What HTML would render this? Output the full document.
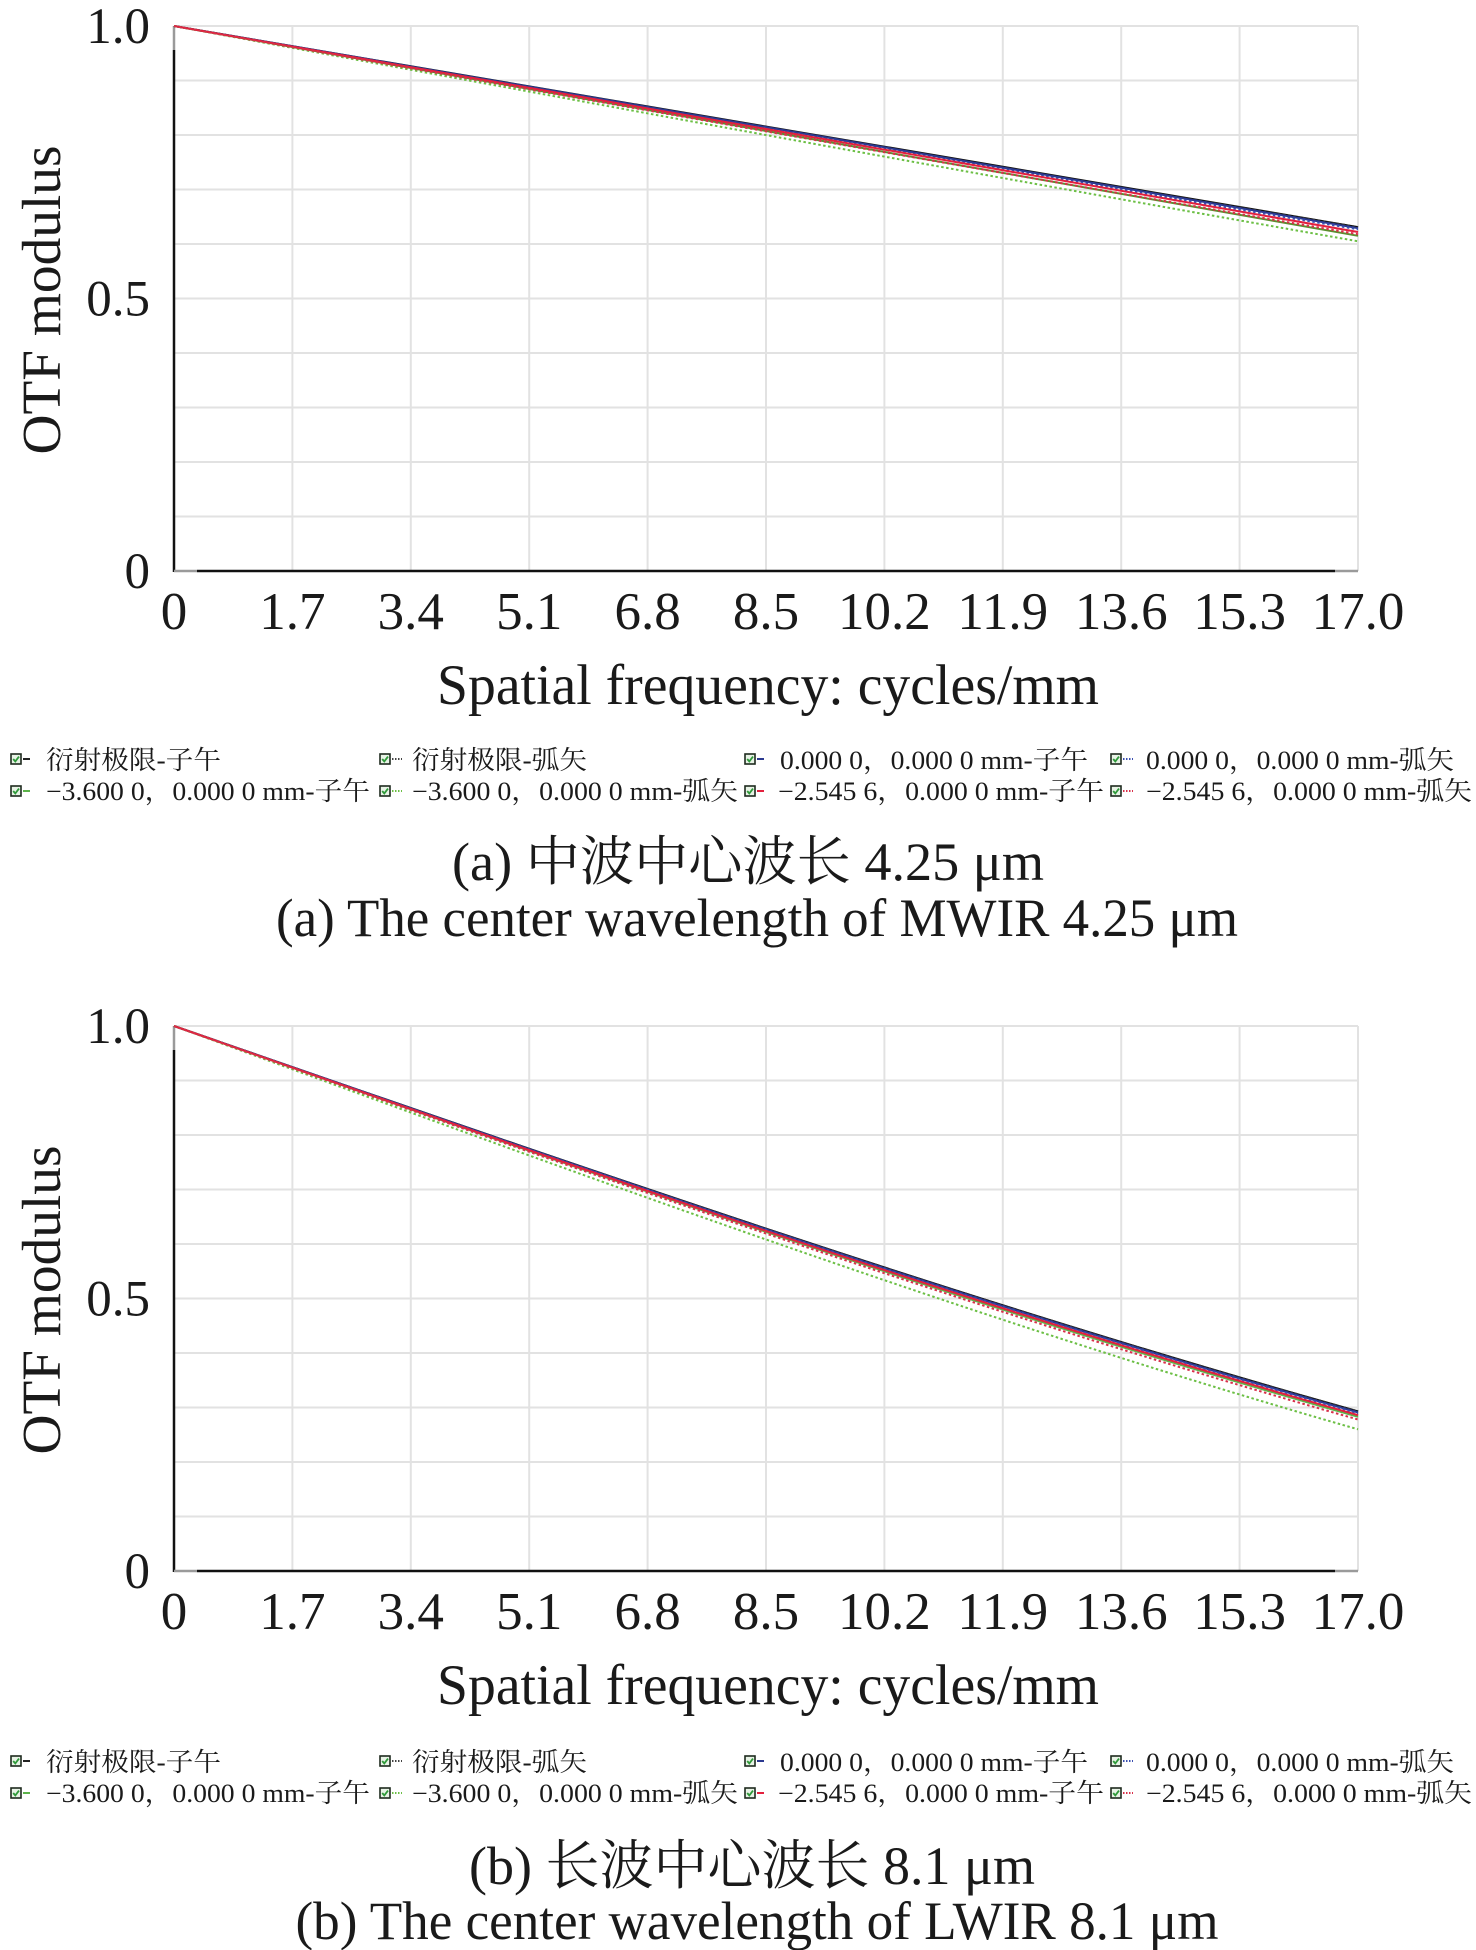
<!DOCTYPE html>
<html>
<head>
<meta charset="utf-8">
<style>
  html, body { margin: 0; padding: 0; background: #ffffff; }
  svg { display: block; }
  text { font-family: "Liberation Serif", "Noto Serif CJK SC", serif; fill: #1a1a1a; }
</style>
</head>
<body>
<svg width="1476" height="1950" viewBox="0 0 1476 1950" xmlns="http://www.w3.org/2000/svg">
  <defs>
    <g id="chk">
      <rect x="0" y="0" width="10" height="10" fill="#e8f3e6" stroke="#1e2a1e" stroke-width="1.6"/>
      <path d="M2.2 5 L4.3 7.4 L8 2.6" fill="none" stroke="#2f9a3a" stroke-width="1.8"/>
    </g>
  </defs>
  <rect x="0" y="0" width="1476" height="1950" fill="#ffffff"/>

  <!-- ================= CHART (a) ================= -->
  <g id="chartA">
    <g stroke="#e2e2e2" stroke-width="2" fill="none">
      <line x1="174" y1="26" x2="1358" y2="26"/>
      <line x1="174" y1="80.5" x2="1358" y2="80.5"/>
      <line x1="174" y1="135" x2="1358" y2="135"/>
      <line x1="174" y1="189.5" x2="1358" y2="189.5"/>
      <line x1="174" y1="244" x2="1358" y2="244"/>
      <line x1="174" y1="298.5" x2="1358" y2="298.5"/>
      <line x1="174" y1="353" x2="1358" y2="353"/>
      <line x1="174" y1="407.5" x2="1358" y2="407.5"/>
      <line x1="174" y1="462" x2="1358" y2="462"/>
      <line x1="174" y1="516.5" x2="1358" y2="516.5"/>
      <line x1="292.4" y1="26" x2="292.4" y2="571"/>
      <line x1="410.8" y1="26" x2="410.8" y2="571"/>
      <line x1="529.2" y1="26" x2="529.2" y2="571"/>
      <line x1="647.6" y1="26" x2="647.6" y2="571"/>
      <line x1="766" y1="26" x2="766" y2="571"/>
      <line x1="884.4" y1="26" x2="884.4" y2="571"/>
      <line x1="1002.8" y1="26" x2="1002.8" y2="571"/>
      <line x1="1121.2" y1="26" x2="1121.2" y2="571"/>
      <line x1="1239.6" y1="26" x2="1239.6" y2="571"/>
      <line x1="1358" y1="26" x2="1358" y2="571"/>
    </g>
    <line x1="174" y1="50" x2="174" y2="572" stroke="#111" stroke-width="2.5"/>
    <line x1="174" y1="26" x2="174" y2="50" stroke="#9a9a9a" stroke-width="2.5"/>
    <line x1="197" y1="571" x2="1335" y2="571" stroke="#111" stroke-width="2.5"/>
    <line x1="174" y1="571" x2="197" y2="571" stroke="#9a9a9a" stroke-width="2.5"/>
    <line x1="1335" y1="571" x2="1358" y2="571" stroke="#9a9a9a" stroke-width="2.5"/>

    <g fill="none" stroke-width="2">
      <path d="M174 26 C568.67 94.03 963.33 162.09 1358 227.10" stroke="#111111"/>
      <path d="M174 26 C568.67 94.03 963.33 162.09 1358 227.10" stroke="#333333" stroke-dasharray="2.5 2.5"/>
      <path d="M174 26 C568.67 94.42 963.33 162.84 1358 228.19" stroke="#2b3990"/>
      <path d="M174 26 C568.67 94.79 963.33 163.61 1358 229.28" stroke="#3a4fb0" stroke-dasharray="2.5 2.5"/>
      <path d="M174 26 C568.67 97.08 963.33 168.19 1358 235.82" stroke="#5a8f2e"/>
      <path d="M174 26 C568.67 98.98 963.33 172.03 1358 241.27" stroke="#6cbf45" stroke-dasharray="2.5 2.5"/>
      <path d="M174 26 C568.67 95.76 963.33 165.50 1358 232.01" stroke="#e3203d"/>
      <path d="M174 26 C568.67 96.50 963.33 167.04 1358 234.19" stroke="#d8304a" stroke-dasharray="2.5 2.5"/>
    </g>

    <g font-size="51" text-anchor="end">
      <text x="150" y="43">1.0</text>
      <text x="150" y="315.5">0.5</text>
      <text x="150" y="588">0</text>
    </g>
    <g font-size="53" text-anchor="middle">
      <text x="174" y="629">0</text>
      <text x="292.4" y="629">1.7</text>
      <text x="410.8" y="629">3.4</text>
      <text x="529.2" y="629">5.1</text>
      <text x="647.6" y="629">6.8</text>
      <text x="766" y="629">8.5</text>
      <text x="884.4" y="629">10.2</text>
      <text x="1002.8" y="629">11.9</text>
      <text x="1121.2" y="629">13.6</text>
      <text x="1239.6" y="629">15.3</text>
      <text x="1358" y="629">17.0</text>
    </g>
    <text x="768" y="704" font-size="57" text-anchor="middle" textLength="662" lengthAdjust="spacingAndGlyphs">Spatial frequency: cycles/mm</text>
    <text transform="translate(60,300) rotate(-90)" font-size="55" text-anchor="middle" textLength="309" lengthAdjust="spacingAndGlyphs">OTF modulus</text>
  </g>

  <!-- legend (a) -->
  <g id="legendA">
    <use href="#chk" x="11" y="754"/>
    <use href="#chk" x="380" y="754"/>
    <use href="#chk" x="745" y="754"/>
    <use href="#chk" x="1111" y="754"/>
    <use href="#chk" x="11" y="786"/>
    <use href="#chk" x="380" y="786"/>
    <use href="#chk" x="745" y="786"/>
    <use href="#chk" x="1111" y="786"/>
    <g stroke-width="2" fill="none">
      <line x1="23" y1="759" x2="30" y2="759" stroke="#222"/>
      <line x1="392" y1="759" x2="402" y2="759" stroke="#444" stroke-dasharray="1.5 1.5"/>
      <line x1="757" y1="759" x2="764" y2="759" stroke="#2b3990"/>
      <line x1="1123" y1="759" x2="1133" y2="759" stroke="#3a4fb0" stroke-dasharray="1.5 1.5"/>
      <line x1="23" y1="791" x2="30" y2="791" stroke="#5cb34a"/>
      <line x1="392" y1="791" x2="402" y2="791" stroke="#6cbf45" stroke-dasharray="1.5 1.5"/>
      <line x1="757" y1="791" x2="764" y2="791" stroke="#e3203d"/>
      <line x1="1123" y1="791" x2="1133" y2="791" stroke="#d8304a" stroke-dasharray="1.5 1.5"/>
    </g>
    <g font-size="26">
      <text x="46" y="769" textLength="175" lengthAdjust="spacingAndGlyphs">衍射极限-子午</text>
      <text x="412" y="769" textLength="175" lengthAdjust="spacingAndGlyphs">衍射极限-弧矢</text>
      <text x="780" y="769" textLength="308" lengthAdjust="spacingAndGlyphs">0.000 0，0.000 0 mm-子午</text>
      <text x="1146" y="769" textLength="308" lengthAdjust="spacingAndGlyphs">0.000 0，0.000 0 mm-弧矢</text>
      <text x="46" y="800" textLength="324" lengthAdjust="spacingAndGlyphs">−3.600 0，0.000 0 mm-子午</text>
      <text x="412" y="800" textLength="326" lengthAdjust="spacingAndGlyphs">−3.600 0，0.000 0 mm-弧矢</text>
      <text x="778" y="800" textLength="326" lengthAdjust="spacingAndGlyphs">−2.545 6，0.000 0 mm-子午</text>
      <text x="1146" y="800" textLength="326" lengthAdjust="spacingAndGlyphs">−2.545 6，0.000 0 mm-弧矢</text>
    </g>
  </g>

  <text x="748" y="880" font-size="54" text-anchor="middle" textLength="592" lengthAdjust="spacingAndGlyphs">(a) 中波中心波长  4.25 μm</text>
  <text x="757" y="936" font-size="54" text-anchor="middle" textLength="962" lengthAdjust="spacingAndGlyphs">(a) The center wavelength of MWIR 4.25 μm</text>

  <!-- ================= CHART (b) ================= -->
  <g id="chartB">
    <g stroke="#e2e2e2" stroke-width="2" fill="none">
      <line x1="174" y1="1026" x2="1358" y2="1026"/>
      <line x1="174" y1="1080.5" x2="1358" y2="1080.5"/>
      <line x1="174" y1="1135" x2="1358" y2="1135"/>
      <line x1="174" y1="1189.5" x2="1358" y2="1189.5"/>
      <line x1="174" y1="1244" x2="1358" y2="1244"/>
      <line x1="174" y1="1298.5" x2="1358" y2="1298.5"/>
      <line x1="174" y1="1353" x2="1358" y2="1353"/>
      <line x1="174" y1="1407.5" x2="1358" y2="1407.5"/>
      <line x1="174" y1="1462" x2="1358" y2="1462"/>
      <line x1="174" y1="1516.5" x2="1358" y2="1516.5"/>
      <line x1="292.4" y1="1026" x2="292.4" y2="1571"/>
      <line x1="410.8" y1="1026" x2="410.8" y2="1571"/>
      <line x1="529.2" y1="1026" x2="529.2" y2="1571"/>
      <line x1="647.6" y1="1026" x2="647.6" y2="1571"/>
      <line x1="766" y1="1026" x2="766" y2="1571"/>
      <line x1="884.4" y1="1026" x2="884.4" y2="1571"/>
      <line x1="1002.8" y1="1026" x2="1002.8" y2="1571"/>
      <line x1="1121.2" y1="1026" x2="1121.2" y2="1571"/>
      <line x1="1239.6" y1="1026" x2="1239.6" y2="1571"/>
      <line x1="1358" y1="1026" x2="1358" y2="1571"/>
    </g>
    <line x1="174" y1="1050" x2="174" y2="1572" stroke="#111" stroke-width="2.5"/>
    <line x1="174" y1="1026" x2="174" y2="1050" stroke="#9a9a9a" stroke-width="2.5"/>
    <line x1="197" y1="1571" x2="1335" y2="1571" stroke="#111" stroke-width="2.5"/>
    <line x1="174" y1="1571" x2="197" y2="1571" stroke="#9a9a9a" stroke-width="2.5"/>
    <line x1="1335" y1="1571" x2="1358" y2="1571" stroke="#9a9a9a" stroke-width="2.5"/>

    <g fill="none" stroke-width="2">
      <path d="M174 1026 C568.67 1162.91 963.33 1300.96 1358 1411.31" stroke="#111111"/>
      <path d="M174 1026 C568.67 1162.91 963.33 1300.96 1358 1411.31" stroke="#333333" stroke-dasharray="2.5 2.5"/>
      <path d="M174 1026 C568.67 1163.37 963.33 1301.88 1358 1412.40" stroke="#2b3990"/>
      <path d="M174 1026 C568.67 1163.81 963.33 1302.82 1358 1413.49" stroke="#3a4fb0" stroke-dasharray="2.5 2.5"/>
      <path d="M174 1026 C568.67 1165.18 963.33 1305.60 1358 1416.76" stroke="#5cb34a"/>
      <path d="M174 1026 C568.67 1170.40 963.33 1316.50 1358 1429.30" stroke="#6cbf45" stroke-dasharray="2.5 2.5"/>
      <path d="M174 1026 C568.67 1164.51 963.33 1304.20 1358 1415.13" stroke="#e3203d"/>
      <path d="M174 1026 C568.67 1166.31 963.33 1307.94 1358 1419.49" stroke="#d8304a" stroke-dasharray="2.5 2.5"/>
    </g>

    <g font-size="51" text-anchor="end">
      <text x="150" y="1043">1.0</text>
      <text x="150" y="1315.5">0.5</text>
      <text x="150" y="1588">0</text>
    </g>
    <g font-size="53" text-anchor="middle">
      <text x="174" y="1629">0</text>
      <text x="292.4" y="1629">1.7</text>
      <text x="410.8" y="1629">3.4</text>
      <text x="529.2" y="1629">5.1</text>
      <text x="647.6" y="1629">6.8</text>
      <text x="766" y="1629">8.5</text>
      <text x="884.4" y="1629">10.2</text>
      <text x="1002.8" y="1629">11.9</text>
      <text x="1121.2" y="1629">13.6</text>
      <text x="1239.6" y="1629">15.3</text>
      <text x="1358" y="1629">17.0</text>
    </g>
    <text x="768" y="1704" font-size="57" text-anchor="middle" textLength="662" lengthAdjust="spacingAndGlyphs">Spatial frequency: cycles/mm</text>
    <text transform="translate(60,1300) rotate(-90)" font-size="55" text-anchor="middle" textLength="309" lengthAdjust="spacingAndGlyphs">OTF modulus</text>
  </g>

  <!-- legend (b) -->
  <g id="legendB" transform="translate(0,1002)">
    <use href="#chk" x="11" y="754"/>
    <use href="#chk" x="380" y="754"/>
    <use href="#chk" x="745" y="754"/>
    <use href="#chk" x="1111" y="754"/>
    <use href="#chk" x="11" y="786"/>
    <use href="#chk" x="380" y="786"/>
    <use href="#chk" x="745" y="786"/>
    <use href="#chk" x="1111" y="786"/>
    <g stroke-width="2" fill="none">
      <line x1="23" y1="759" x2="30" y2="759" stroke="#222"/>
      <line x1="392" y1="759" x2="402" y2="759" stroke="#444" stroke-dasharray="1.5 1.5"/>
      <line x1="757" y1="759" x2="764" y2="759" stroke="#2b3990"/>
      <line x1="1123" y1="759" x2="1133" y2="759" stroke="#3a4fb0" stroke-dasharray="1.5 1.5"/>
      <line x1="23" y1="791" x2="30" y2="791" stroke="#5cb34a"/>
      <line x1="392" y1="791" x2="402" y2="791" stroke="#6cbf45" stroke-dasharray="1.5 1.5"/>
      <line x1="757" y1="791" x2="764" y2="791" stroke="#e3203d"/>
      <line x1="1123" y1="791" x2="1133" y2="791" stroke="#d8304a" stroke-dasharray="1.5 1.5"/>
    </g>
    <g font-size="26">
      <text x="46" y="769" textLength="175" lengthAdjust="spacingAndGlyphs">衍射极限-子午</text>
      <text x="412" y="769" textLength="175" lengthAdjust="spacingAndGlyphs">衍射极限-弧矢</text>
      <text x="780" y="769" textLength="308" lengthAdjust="spacingAndGlyphs">0.000 0，0.000 0 mm-子午</text>
      <text x="1146" y="769" textLength="308" lengthAdjust="spacingAndGlyphs">0.000 0，0.000 0 mm-弧矢</text>
      <text x="46" y="800" textLength="324" lengthAdjust="spacingAndGlyphs">−3.600 0，0.000 0 mm-子午</text>
      <text x="412" y="800" textLength="326" lengthAdjust="spacingAndGlyphs">−3.600 0，0.000 0 mm-弧矢</text>
      <text x="778" y="800" textLength="326" lengthAdjust="spacingAndGlyphs">−2.545 6，0.000 0 mm-子午</text>
      <text x="1146" y="800" textLength="326" lengthAdjust="spacingAndGlyphs">−2.545 6，0.000 0 mm-弧矢</text>
    </g>
  </g>

  <text x="752" y="1884" font-size="54" text-anchor="middle" textLength="566" lengthAdjust="spacingAndGlyphs">(b) 长波中心波长  8.1 μm</text>
  <text x="757" y="1939" font-size="54" text-anchor="middle" textLength="923" lengthAdjust="spacingAndGlyphs">(b) The center wavelength of LWIR 8.1 μm</text>
</svg>
</body>
</html>
